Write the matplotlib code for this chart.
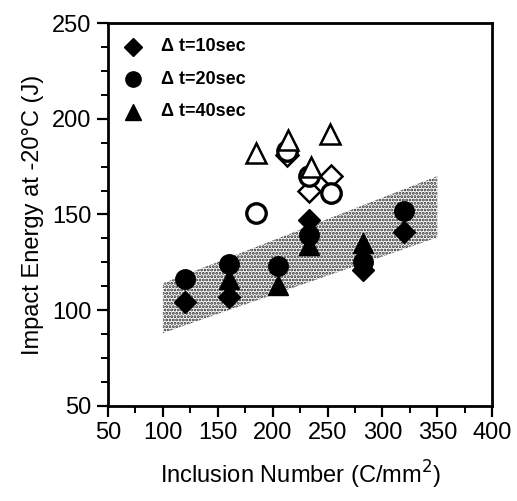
import matplotlib
matplotlib.use("Agg")
from matplotlib import pyplot as plt
from matplotlib.ticker import MultipleLocator

plt.rcParams['font.family'] = ['Liberation Sans', 'DejaVu Sans']
plt.rcParams['hatch.linewidth'] = 1.4

# shaded scatter band (x, lower, upper)
band_x = [100, 350]
band_lo = [88, 138]
band_hi = [114, 170]

# filled markers: dt = 10 / 20 / 40 sec
dia_x = [120, 160, 233, 282, 320]
dia_y = [104, 107, 147, 121, 141]
cir_x = [120, 160, 205, 233, 282, 320]
cir_y = [116, 124, 123, 139, 125, 152]
tri_x = [160, 205, 233, 282]
tri_y = [116, 113, 134, 135]

# open markers
odia_x = [213, 233, 253]
odia_y = [181, 162, 170]
ocir_x = [185, 213, 233, 253]
ocir_y = [151, 183, 170, 161]
otri_x = [185, 214, 235, 252]
otri_y = [182, 189, 175, 192]

legend_labels = ['\u0394 t=10sec', '\u0394 t=20sec', '\u0394 t=40sec']

fig = plt.figure(figsize=(5.17, 5.01), dpi=100)
ax = fig.add_axes([0.209, 0.190, 0.743, 0.764])

ax.fill_between(band_x, band_lo, band_hi, facecolor='white', edgecolor='#222222',
                hatch='.....', linewidth=0, zorder=1)

ms = 14
ax.plot(odia_x, odia_y, 'D', ms=ms * 0.8, mfc='white', mec='black', mew=1.8, ls='none', zorder=3)
ax.plot(ocir_x, ocir_y, 'o', ms=ms, mfc='white', mec='black', mew=2.4, ls='none', zorder=3)
ax.plot(otri_x, otri_y, '^', ms=ms, mfc='white', mec='black', mew=1.8, ls='none', zorder=3)

ax.plot(tri_x, tri_y, '^', ms=ms, color='black', ls='none', zorder=4)
ax.plot(cir_x, cir_y, 'o', ms=ms, color='black', ls='none', zorder=4)
ax.plot(dia_x, dia_y, 'D', ms=ms * 0.8, color='black', ls='none', zorder=4)

# legend drawn by hand in axes coordinates
for i, (mk, lab) in enumerate(zip(['D', 'o', '^'], legend_labels)):
    yy = 0.938 - i * 0.085
    ax.plot(0.065, yy, mk, ms=11 if mk != 'D' else 9, color='black',
            transform=ax.transAxes, clip_on=False)
    ax.text(0.138, yy, lab, transform=ax.transAxes, fontsize=13,
            fontweight='bold', va='center', ha='left')

ax.set_xlim(50, 400)
ax.set_ylim(50, 250)
ax.xaxis.set_major_locator(MultipleLocator(50))
ax.xaxis.set_minor_locator(MultipleLocator(25))
ax.yaxis.set_major_locator(MultipleLocator(50))
ax.yaxis.set_minor_locator(MultipleLocator(12.5))
ax.tick_params(which='major', direction='out', length=8, width=1.6, labelsize=17, pad=4)
ax.tick_params(which='minor', direction='out', length=5, width=1.4)
for s in ax.spines.values():
    s.set_linewidth(2)

ax.set_xlabel('Inclusion Number (C/mm$^2$)', fontsize=17, labelpad=10)
ax.set_ylabel('Impact Energy at -20\u00b0C (J)', fontsize=17, labelpad=6)

fig.savefig('out.png', dpi=100)
